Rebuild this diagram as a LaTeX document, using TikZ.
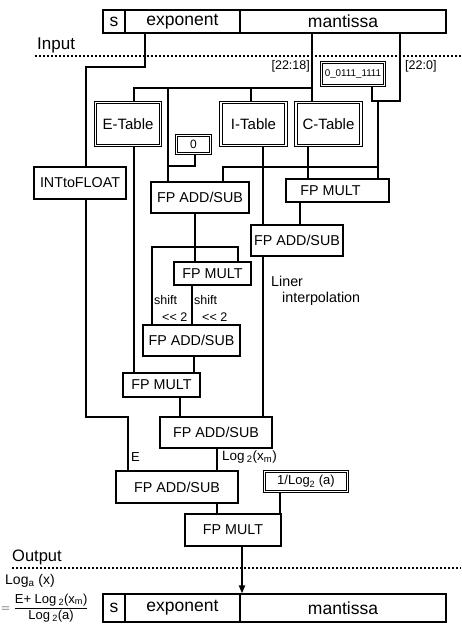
\documentclass[tikz,border=0pt]{standalone}
\usepackage{fontspec}
\setmainfont{Liberation Sans}
\usetikzlibrary{arrows.meta}

\begin{document}
\begin{tikzpicture}[x=1pt, y=-1pt,
    box/.style={draw, line width=1.2pt, inner sep=0pt, align=center, font=\fontsize{14.3}{17}\selectfont},
    lut/.style={box, double, line width=1pt, double distance=1.6pt, font=\fontsize{15}{17}\selectfont},
    cell/.style={draw, line width=1.2pt, inner sep=0pt, font=\fontsize{17.5}{20}\selectfont},
    wire/.style={line width=1.8pt},
    arr/.style={wire, -{Triangle[length=8pt, width=6pt]}},
    bound/.style={line width=1.6pt, dash pattern=on 2.2pt off 1.8pt},
    lbl/.style={inner sep=0pt, font=\fontsize{12.5}{14}\selectfont}
]
\useasboundingbox (0,0) rectangle (461,628);

%% ---- INPUT WORD ----
\node[cell, minimum width=22pt, minimum height=23pt]  (ts)   at (114,21.5)   {s};
\node[cell, minimum width=115pt, minimum height=23pt] (texp) at (182.5,21.5) {exponent};
\node[cell, minimum width=206pt, minimum height=23pt] (tman) at (343,21.5)   {mantissa};

\node[anchor=west, inner sep=0pt, font=\fontsize{17}{20}\selectfont] (lin) at (37,45) {Input};
\draw[bound] (35,56) -- (461,56);

%% ---- TABLES / CONSTANTS ----
\node[lut, minimum width=65pt, minimum height=43pt] (etab) at (128,124)   {E-Table};
\node[lut, minimum width=65pt, minimum height=43pt] (itab) at (253.5,124) {I-Table};
\node[lut, minimum width=65pt, minimum height=43pt] (ctab) at (328.5,124) {C-Table};
\node[lut, minimum width=34pt, minimum height=18pt, font=\fontsize{12}{14}\selectfont] (zero) at (193.5,144.5) {0};
\node[lut, minimum width=63pt, minimum height=23pt, font=\fontsize{9.8}{11}\selectfont] (bias) at (353,74) {0\_0111\_1111};
\node[lut, minimum width=83pt, minimum height=20pt, font=\fontsize{13}{15}\selectfont] (inv) at (306,481.5) {1/Log\textsubscript{2} (a)};

%% ---- ARITHMETIC UNITS ----
\node[box, minimum width=92pt, minimum height=32pt]  (itof) at (80,183)      {INTtoFLOAT};
\node[box, minimum width=98pt, minimum height=31pt]  (add1) at (200,197.5)   {FP ADD/SUB};
\node[box, minimum width=103pt, minimum height=23pt] (mulr) at (337.5,190.5) {FP MULT\hspace*{14pt}};
\node[box, minimum width=92pt, minimum height=31pt]  (addr) at (297,240.5)   {FP ADD/SUB};
\node[box, minimum width=77pt, minimum height=23pt]  (mulm) at (212.5,273.5) {FP MULT};
\node[box, minimum width=97pt, minimum height=31pt]  (add2) at (191.5,340.5) {FP ADD/SUB};
\node[box, minimum width=77pt, minimum height=24pt]  (mull) at (161.5,385)   {FP MULT};
\node[box, minimum width=112pt, minimum height=31pt] (add3) at (216,432.5)   {FP ADD/SUB};
\node[box, minimum width=122pt, minimum height=32pt] (add4) at (177,487)     {FP ADD/SUB};
\node[box, minimum width=96pt, minimum height=32pt]  (mulo) at (233,530)     {FP MULT};

%% ---- LABELS ----
\node[lbl, anchor=east] (l2218) at (310,66) {[22:18]};
\node[lbl, anchor=west] (l220)  at (405,66) {[22:0]};
\node[lbl, anchor=west] (sh1)   at (154,300) {shift};
\node[lbl, anchor=west] (ls1)   at (162,317) {<\kern0pt< 2};
\node[lbl, anchor=west] (sh2)   at (194,300) {shift};
\node[lbl, anchor=west] (ls2)   at (202,317) {<\kern0pt< 2};
\node[anchor=west, inner sep=0pt, align=left, font=\fontsize{14.3}{16}\selectfont] (interp) at (271,291) {Liner\\\hspace*{11pt}interpolation};
\node[lbl, anchor=west, font=\fontsize{13}{15}\selectfont] (le)   at (131,457) {E};
\node[lbl, anchor=west, font=\fontsize{13.5}{15}\selectfont] (llog) at (222,457) {Log\,\textsubscript{2}(x\textsubscript{m})};

%% ---- WIRES: exponent path ----
\coordinate (ebend) at (145,67);
\coordinate (eturn) at (128,417);
\draw[wire] (texp.south -| ebend) -- (ebend) -| ([xshift=6pt]itof.north);
\draw[wire] ([xshift=6pt]itof.south) |- (eturn) -- (add4.north -| eturn);

%% ---- WIRES: mantissa [22:18] ----
\coordinate (bus) at (312,88);
\draw[wire] ([xshift=-31pt]tman.south) -- ([xshift=-16.5pt]ctab.north);
\draw[wire] (bus) -| ([xshift=6pt]etab.north);
\draw[wire] (bus) -| ([xshift=-2.5pt]itab.north);
\draw[wire] (bus) -| ([xshift=-32pt]add1.north);

%% ---- WIRES: mantissa [22:0] and bias ----
\coordinate (cj) at (372,101);
\draw[wire] ([xshift=19pt]bias.south) -- (cj) -| ([xshift=57pt]tman.south);
\draw[wire] ([xshift=6pt]cj) -- ([xshift=40.5pt]mulr.north);

%% ---- WIRES: table outputs ----
\coordinate (mbus) at (378,167);
\coordinate (zj) at (168,166);
\draw[wire] ([xshift=-20.5pt]ctab.south) -- ([xshift=-29.5pt]mulr.north);
\draw[wire] (mbus) -| ([xshift=23pt]add1.north);
\draw[wire] ([xshift=1.5pt]zero.south) |- (zj);
\draw[wire] ([xshift=6pt]etab.south) -- ([xshift=-27.5pt]mull.north);
\draw[wire] ([xshift=9.5pt]itab.south) -- ([xshift=-34pt]addr.north);
\draw[wire] ([xshift=-37.5pt]mulr.south) -- ([xshift=3pt]addr.north);
\draw[wire] ([xshift=-34pt]addr.south) -- ([xshift=47pt]add3.north);

%% ---- WIRES: shift stage ----
\coordinate (sj) at (195,247);
\draw[wire] ([xshift=-5pt]add1.south) -- (sj);
\draw[wire] (sj) -| ([xshift=-39.5pt]add2.north);
\draw[wire] (sj) -| ([xshift=25.5pt]mulm.north);
\draw[wire] (sj) -- ([xshift=-17.5pt]mulm.north);
\draw[wire] ([xshift=-20.5pt]mulm.south) -- ([xshift=0.5pt]add2.north);
\draw[wire] ([xshift=2.5pt]add2.south) -- ([xshift=32.5pt]mull.north);
\draw[wire] ([xshift=18.5pt]mull.south) -- ([xshift=-36pt]add3.north);

%% ---- WIRES: final stage ----
\draw[wire] ([xshift=1pt]add3.south) -- ([xshift=40pt]add4.north);
\draw[wire] ([xshift=40pt]add4.south) -- ([xshift=-16pt]mulo.north);
\draw[wire] ([xshift=-26pt]inv.south) -- ([xshift=47pt]mulo.north);

%% ---- OUTPUT WORD ----
\node[anchor=west, inner sep=0pt, font=\fontsize{16.5}{19}\selectfont] (lout) at (12,557) {Output};
\draw[bound] (12,568) -- (461,568);
\node[lbl, anchor=west, font=\fontsize{14}{16}\selectfont] (lloga) at (5,581) {Log\textsubscript{a} (x)};
\node[lbl, anchor=west, font=\fontsize{13}{15}\selectfont] (lfrac) at (1,608)
  {$=\displaystyle\frac{\hbox{E+ Log\,\textsubscript{2}(x\textsubscript{m})}}{\hbox{Log\,\textsubscript{2}(a)}}$};

\node[cell, minimum width=22pt, minimum height=28pt]  (bs)   at (114,608)   {s};
\node[cell, minimum width=115pt, minimum height=28pt] (bexp) at (182.5,608) {exponent};
\node[cell, minimum width=206pt, minimum height=28pt] (bman) at (343,608)   {mantissa};

\draw[arr] ([xshift=9pt]mulo.south) -- ([xshift=-101pt]bman.north);

\end{tikzpicture}
\end{document}
